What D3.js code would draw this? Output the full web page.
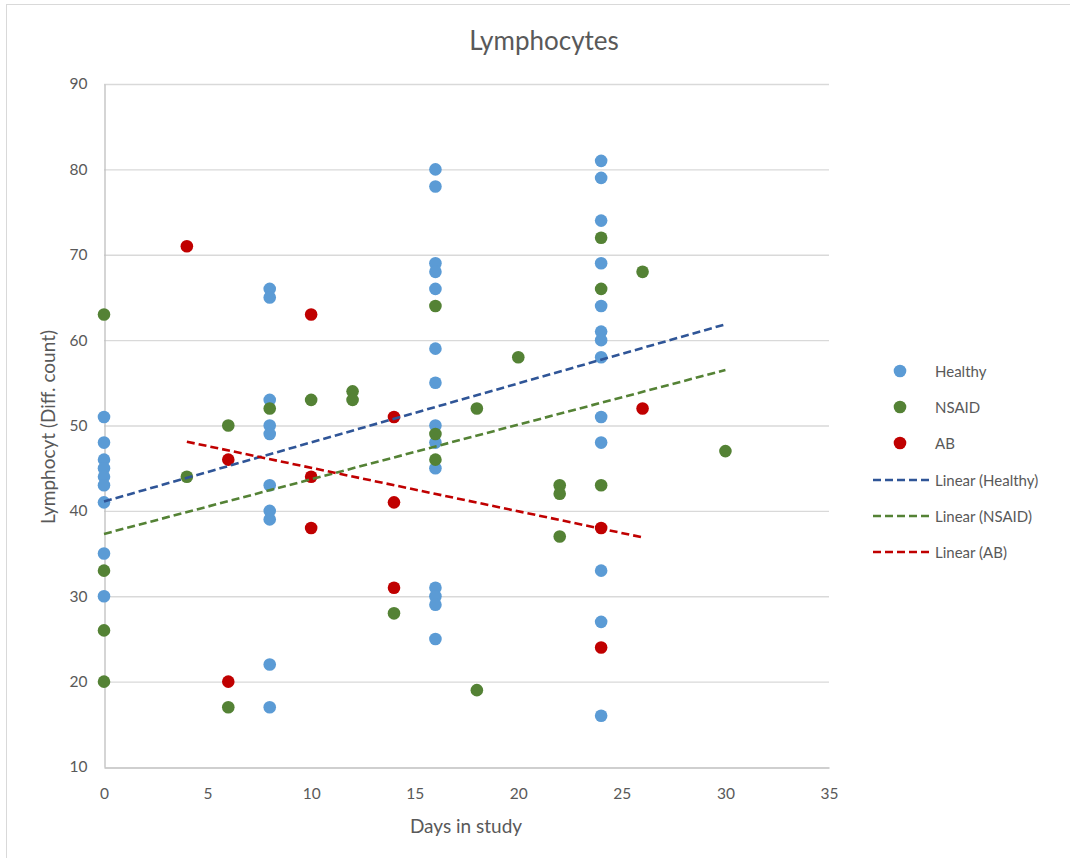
<!DOCTYPE html>
<html>
<head>
<meta charset="utf-8">
<script src="https://cdn.jsdelivr.net/npm/d3@7"></script>
<style>
  html, body { margin: 0; padding: 0; background: #fff; }
  svg { display: block; font-family: Lato, "Open Sans", sans-serif; }
</style>
</head>
<body>
<svg id="chart" width="1070" height="858"></svg>
<script>
// Lymphocyte differential counts by day in study
const healthyX = [0,0,0,0,0,0,0,0,0, 8,8,8,8,8,8,8,8,8,8,
  16,16,16,16,16,16,16,16,16,16,16,16,16,16,
  24,24,24,24,24,24,24,24,24,24,24,24,24];
const healthyY = [51,48,46,45,44,43,41,35,30, 66,65,53,50,49,43,40,39,22,17,
  80,78,69,68,66,59,55,50,48,45,31,30,29,25,
  81,79,74,69,64,61,60,58,51,48,33,27,16];

const nsaidX = [0,0,0,0, 4, 6,6, 8, 10, 12,12, 14, 16,16,16, 18,18, 20, 22,22,22, 24,24,24, 26, 30];
const nsaidY = [63,33,26,20, 44, 50,17, 52, 53, 54,53, 28, 64,49,46, 52,19, 58, 43,42,37, 72,66,43, 68, 47];

const abX = [4, 6,6, 10,10,10, 14,14,14, 24,24, 26];
const abY = [71, 46,20, 63,44,38, 51,41,31, 38,24, 52];

// Linear trendlines: [start day, end day] and fitted values at those ends
const trendHealthyX = [0, 30], trendHealthyY = [41.1, 61.85];
const trendNsaidX = [0, 30],   trendNsaidY = [37.3, 56.5];
const trendAbX = [4, 26],      trendAbY = [48.1, 36.9];

const xTicks = [0, 5, 10, 15, 20, 25, 30, 35];
const yTicks = [10, 20, 30, 40, 50, 60, 70, 80, 90];

const seriesNames = ["Healthy", "NSAID", "AB"];
const trendNames = ["Linear (Healthy)", "Linear (NSAID)", "Linear (AB)"];
const dotColors = ["#5B9BD5", "#548235", "#C00000"];
const lineColors = ["#2F5597", "#548235", "#C00000"];

const svg = d3.select("#chart");
const textColor = "#595959";

// chart-area frame
svg.append("rect").attr("x", 6.5).attr("y", 4.5).attr("width", 1100).attr("height", 900)
  .attr("fill", "none").attr("stroke", "#d9d9d9").attr("stroke-width", 1);

const plot = { left: 104, right: 829, top: 84, bottom: 767 };
const x = d3.scaleLinear().domain([0, 35]).range([plot.left, plot.right]);
const y = d3.scaleLinear().domain([10, 90]).range([plot.bottom, plot.top]);

// horizontal gridlines
svg.append("g").selectAll("line").data(yTicks.filter(t => t > 10)).join("line")
  .attr("x1", plot.left).attr("x2", plot.right)
  .attr("y1", d => y(d) + 0.5).attr("y2", d => y(d) + 0.5)
  .attr("stroke", "#d9d9d9").attr("stroke-width", 1.3);

// axes
const xAxis = svg.append("g").attr("transform", `translate(0,${plot.bottom + 0.5})`)
  .call(d3.axisBottom(x).tickValues(xTicks).tickSize(0).tickPadding(20));
const yAxis = svg.append("g").attr("transform", `translate(${plot.left + 0.5},0)`)
  .call(d3.axisLeft(y).tickValues(yTicks).tickSize(0).tickPadding(17));
[xAxis, yAxis].forEach(a => {
  a.select(".domain").attr("stroke", "#bfbfbf").attr("stroke-width", 1.3);
  a.selectAll("text").attr("fill", textColor).style("font-size", "15.5px")
    .style("font-family", "Lato, 'Open Sans', sans-serif");
});

// scatter points
const groups = [[healthyX, healthyY], [nsaidX, nsaidY], [abX, abY]];
groups.forEach(([xs, ys], i) => {
  svg.append("g").selectAll("circle").data(xs.map((d, k) => [d, ys[k]])).join("circle")
    .attr("cx", d => x(d[0])).attr("cy", d => y(d[1])).attr("r", 6.3)
    .attr("fill", dotColors[i]);
});

// trendlines
const trends = [[trendHealthyX, trendHealthyY], [trendNsaidX, trendNsaidY], [trendAbX, trendAbY]];
const line = d3.line().x(d => x(d[0])).y(d => y(d[1]));
trends.forEach(([xs, ys], i) => {
  svg.append("path").datum(xs.map((d, k) => [d, ys[k]]))
    .attr("d", line).attr("fill", "none").attr("stroke", lineColors[i])
    .attr("stroke-width", 2.6).attr("stroke-dasharray", "8,4");
});

// title and axis titles
svg.append("text").attr("x", 544).attr("y", 50).attr("text-anchor", "middle")
  .attr("fill", textColor).style("font-size", "26px").text("Lymphocytes");
svg.append("text").attr("x", 466).attr("y", 833).attr("text-anchor", "middle")
  .attr("fill", textColor).style("font-size", "19px").text("Days in study");
svg.append("text").attr("transform", "translate(55,427) rotate(-90)").attr("text-anchor", "middle")
  .attr("fill", textColor).style("font-size", "19px").text("Lymphocyt (Diff. count)");

// legend
const legend = svg.append("g");
seriesNames.forEach((name, i) => {
  const ly = 371 + i * 36;
  legend.append("circle").attr("cx", 900).attr("cy", ly).attr("r", 6.3).attr("fill", dotColors[i]);
  legend.append("text").attr("x", 935).attr("y", ly + 5.5).attr("fill", textColor)
    .style("font-size", "15px").text(name);
});
trendNames.forEach((name, i) => {
  const ly = 480 + i * 36;
  legend.append("line").attr("x1", 873).attr("x2", 929).attr("y1", ly).attr("y2", ly)
    .attr("stroke", lineColors[i]).attr("stroke-width", 2.6).attr("stroke-dasharray", "8,4");
  legend.append("text").attr("x", 935).attr("y", ly + 5.5).attr("fill", textColor)
    .style("font-size", "15px").text(name);
});
</script>
</body>
</html>
